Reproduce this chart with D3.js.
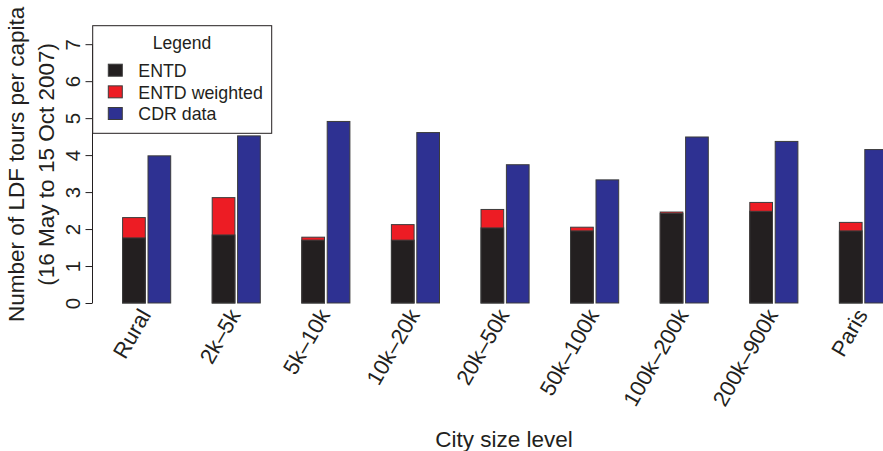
<!DOCTYPE html>
<html>
<head>
<meta charset="utf-8">
<script src="https://cdn.jsdelivr.net/npm/d3@7"></script>
<style>
  html, body { margin: 0; padding: 0; background: #fff; }
  svg { display: block; font-family: "Liberation Sans", Arial, Helvetica, sans-serif; }
</style>
</head>
<body>
<svg id="chart" width="883" height="451"></svg>
<script>
// City size classes and tours per capita for each source
const categories = ["Rural", "2k\u20135k", "5k\u201310k", "10k\u201320k", "20k\u201350k",
                    "50k\u2013100k", "100k\u2013200k", "200k\u2013900k", "Paris"];
const entd         = [1.76, 1.84, 1.70, 1.70, 2.03, 1.95, 2.42, 2.48, 1.95];
const entdWeighted = [2.31, 2.85, 1.78, 2.12, 2.53, 2.05, 2.46, 2.72, 2.18];
const cdrData      = [3.98, 4.52, 4.91, 4.61, 3.74, 3.33, 4.49, 4.37, 4.15];
const yTicks       = [0, 1, 2, 3, 4, 5, 6, 7];

const legendLabels = ["ENTD", "ENTD weighted", "CDR data"];
const colors = { entd: "#231f20", weighted: "#ed1c24", cdr: "#2e3192" };
const textColor = "#231f20";
const edge = "#3c3c3c";

const svg = d3.select("#chart");

// Plot region
const plotLeft = 92.5, plotTop = 25.7, plotBottom = 303;
const y = d3.scaleLinear().domain([0, 7.5]).range([plotBottom, plotTop]);

// One band per city size; each band holds the ENTD pair and the CDR bar
const step = 89.6;
const x = d3.scaleBand()
  .domain(categories)
  .range([122.6, 122.6 + categories.length * step])
  .padding(0);
const barW = 22.7, gap = 2.7;

const groups = svg.append("g").selectAll("g")
  .data(categories.map((c, i) => ({ c, e: entd[i], w: entdWeighted[i], d: cdrData[i] })))
  .join("g")
  .attr("transform", d => `translate(${x(d.c)},0)`);

// Weighted ENTD drawn full height, plain ENTD over it
groups.append("rect")
  .attr("x", 0).attr("width", barW)
  .attr("y", d => y(d.w)).attr("height", d => y(0) - y(d.w))
  .attr("fill", colors.weighted).attr("stroke", edge).attr("stroke-width", 1);
groups.append("rect")
  .attr("x", 0).attr("width", barW)
  .attr("y", d => y(d.e)).attr("height", d => y(0) - y(d.e))
  .attr("fill", colors.entd).attr("stroke", edge).attr("stroke-width", 1);
groups.append("rect")
  .attr("x", barW + gap).attr("width", barW)
  .attr("y", d => y(d.d)).attr("height", d => y(0) - y(d.d))
  .attr("fill", colors.cdr).attr("stroke", edge).attr("stroke-width", 1);

// Y axis
const yAxis = svg.append("g")
  .attr("transform", `translate(${plotLeft},0)`)
  .call(d3.axisLeft(y).tickValues(yTicks).tickSize(7).tickSizeOuter(0).tickPadding(0).tickFormat(d3.format("d")));
yAxis.select(".domain").attr("stroke", textColor).attr("d", `M0,${y(0)}V${y(7)}`);
yAxis.selectAll(".tick line").attr("stroke", textColor);
yAxis.selectAll(".tick text")
  .attr("x", null).attr("dy", null)
  .attr("transform", "translate(-12.5,0) rotate(-90)")
  .attr("text-anchor", "middle")
  .attr("fill", textColor)
  .style("font-size", "20.5px");

// Rotated category labels
svg.append("g").selectAll("text")
  .data(categories)
  .join("text")
  .attr("transform", d => `translate(${x(d) + barW + gap / 2 - 1.5},311) rotate(-60)`)
  .attr("text-anchor", "end")
  .attr("dominant-baseline", "central")
  .attr("fill", textColor)
  .style("font-size", "22px")
  .text(d => d);

// Axis titles
svg.append("text")
  .attr("x", 504).attr("y", 447)
  .attr("text-anchor", "middle")
  .attr("fill", textColor)
  .style("font-size", "22.5px")
  .text("City size level");

const yTitle = svg.append("text")
  .attr("transform", `translate(0,${(plotTop + plotBottom) / 2}) rotate(-90)`)
  .attr("text-anchor", "middle")
  .attr("fill", textColor)
  .style("font-size", "22.5px");
yTitle.append("tspan").attr("x", 0).attr("y", 23.5).text("Number of LDF tours per capita");
yTitle.append("tspan").attr("x", 0).attr("y", 53.5).text("(16 May to 15 Oct 2007)");

// Legend
const lg = svg.append("g");
lg.append("rect")
  .attr("x", 92.7).attr("y", 25.7).attr("width", 179).attr("height", 107.6)
  .attr("fill", "#fff").attr("stroke", textColor).attr("stroke-width", 1);
lg.append("text")
  .attr("x", 182).attr("y", 49)
  .attr("text-anchor", "middle").attr("fill", textColor)
  .style("font-size", "17.5px").text("Legend");
const legendColors = [colors.entd, colors.weighted, colors.cdr];
const rowY = d3.scalePoint().domain(legendLabels).range([70.2, 113.5]);
const rows = lg.selectAll("g.row").data(legendLabels).join("g").attr("class", "row")
  .attr("transform", d => `translate(0,${rowY(d)})`);
rows.append("rect")
  .attr("x", 108.3).attr("y", -6).attr("width", 14).attr("height", 12)
  .attr("fill", (d, i) => legendColors[i]).attr("stroke", edge).attr("stroke-width", 1);
rows.append("text")
  .attr("x", 138.3).attr("y", 6.8)
  .attr("fill", textColor)
  .style("font-size", "17.8px").text(d => d);
</script>
</body>
</html>
